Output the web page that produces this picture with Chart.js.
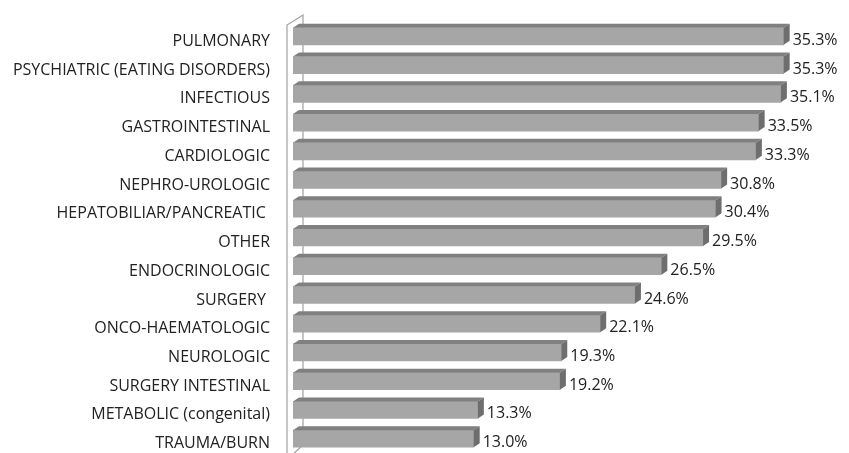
<!DOCTYPE html>
<html>
<head>
<meta charset="utf-8">
<script src="https://cdn.jsdelivr.net/npm/chart.js@4"></script>
<style>
  html, body { margin: 0; padding: 0; background: #ffffff; overflow: hidden; }
  #wrap { width: 849px; height: 453px; position: relative; }
</style>
</head>
<body>
<div id="wrap"><canvas id="chart"></canvas></div>
<script>
// Share of admissions by diagnostic group (%)
const categories = [
  'PULMONARY',
  'PSYCHIATRIC (EATING DISORDERS)',
  'INFECTIOUS',
  'GASTROINTESTINAL',
  'CARDIOLOGIC',
  'NEPHRO-UROLOGIC',
  'HEPATOBILIAR/PANCREATIC ',
  'OTHER',
  'ENDOCRINOLOGIC',
  'SURGERY ',
  'ONCO-HAEMATOLOGIC',
  'NEUROLOGIC',
  'SURGERY INTESTINAL',
  'METABOLIC (congenital)',
  'TRAUMA/BURN'
];
const values = [35.3, 35.3, 35.1, 33.5, 33.3, 30.8, 30.4, 29.5, 26.5, 24.6, 22.1, 19.3, 19.2, 13.3, 13.0];

const FONT = '"Open Sans", sans-serif';
const TEXT = '#222222';
const DEPTH_X = 6, DEPTH_Y = -4;

// Pseudo-3D: side wall behind the bars, then top and end faces on each bar
const bar3d = {
  id: 'bar3d',
  beforeDatasetsDraw(chart) {
    const ctx = chart.ctx, area = chart.chartArea;
    const x0 = chart.scales.x.getPixelForValue(0);
    const fx = x0 - 6, bx = x0 + 10;
    const fTop = area.top + 3, bTop = area.top - 7;
    ctx.save();
    ctx.strokeStyle = '#a0a0a0';
    ctx.lineWidth = 1.2;
    ctx.beginPath();
    ctx.moveTo(fx, area.bottom + 5);
    ctx.lineTo(fx, fTop);
    ctx.lineTo(bx, bTop);
    ctx.lineTo(bx, area.bottom - 8);
    ctx.lineTo(fx + 4, area.bottom + 3);
    ctx.stroke();
    ctx.restore();
  },
  afterDatasetsDraw(chart) {
    const ctx = chart.ctx;
    const meta = chart.getDatasetMeta(0);
    ctx.save();
    meta.data.forEach((el, i) => {
      const p = el.getProps(['x', 'y', 'base', 'height'], true);
      const top = p.y - p.height / 2, bottom = p.y + p.height / 2;
      // top face
      ctx.fillStyle = '#808080';
      ctx.beginPath();
      ctx.moveTo(p.base, top);
      ctx.lineTo(p.base + DEPTH_X, top + DEPTH_Y);
      ctx.lineTo(p.x + DEPTH_X, top + DEPTH_Y);
      ctx.lineTo(p.x, top);
      ctx.closePath();
      ctx.fill();
      // end face
      ctx.fillStyle = '#6e6e6e';
      ctx.beginPath();
      ctx.moveTo(p.x, top);
      ctx.lineTo(p.x + DEPTH_X, top + DEPTH_Y);
      ctx.lineTo(p.x + DEPTH_X, bottom + DEPTH_Y);
      ctx.lineTo(p.x, bottom);
      ctx.closePath();
      ctx.fill();
      // value label
      ctx.fillStyle = TEXT;
      ctx.font = '16px ' + FONT;
      ctx.textAlign = 'left';
      ctx.textBaseline = 'middle';
      ctx.fillText(values[i].toFixed(1) + '%', p.x + 9, p.y + 4);
    });
    ctx.restore();
  }
};

new Chart(document.getElementById('chart'), {
  type: 'bar',
  data: {
    labels: categories,
    datasets: [{
      data: values,
      backgroundColor: '#a6a6a6',
      borderWidth: 0,
      barThickness: 17
    }]
  },
  options: {
    indexAxis: 'y',
    responsive: true,
    maintainAspectRatio: false,
    animation: false,
    layout: { padding: { top: 22, bottom: 0, left: 0, right: 0 } },
    plugins: { legend: { display: false }, tooltip: { enabled: false } },
    scales: {
      x: { display: false, min: 0, max: 40 },
      y: {
        afterFit(scale) {
          scale.width = 293;
          scale.paddingTop = 0;
          scale.paddingBottom = 0;
        },
        grid: { display: false, drawTicks: false },
        border: { display: false },
        ticks: {
          color: TEXT,
          font: { family: FONT, size: 16 },
          padding: 23,
          labelOffset: 5,
          autoSkip: false
        }
      }
    }
  },
  plugins: [bar3d]
});
</script>
</body>
</html>
